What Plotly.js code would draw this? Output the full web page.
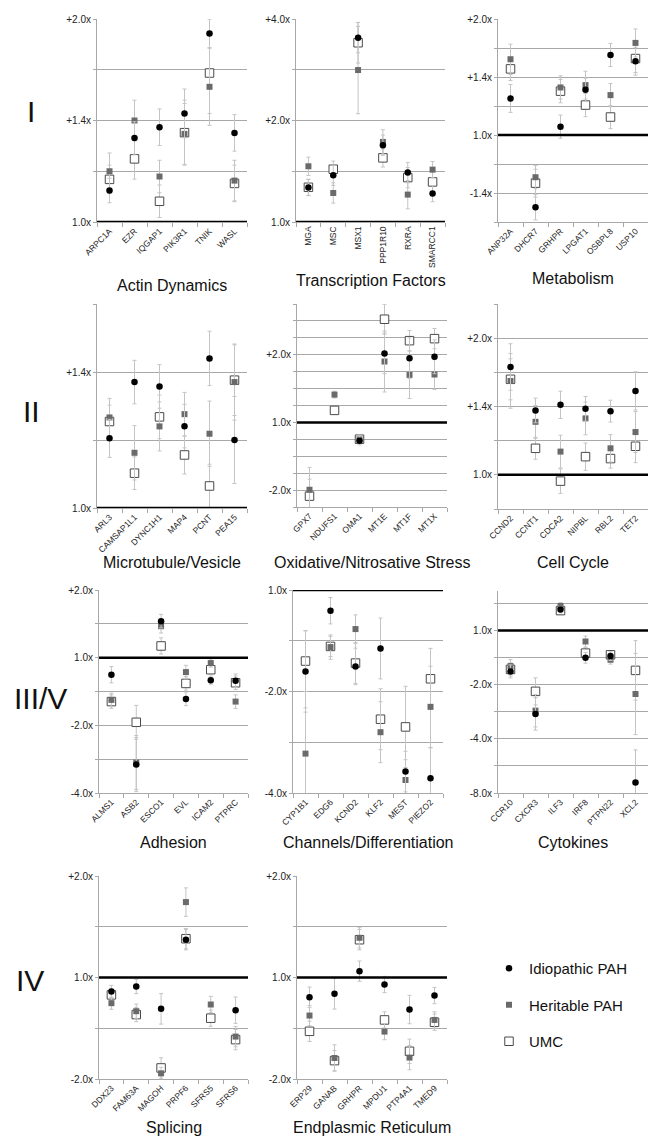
<!DOCTYPE html>
<html><head><meta charset="utf-8">
<script src="https://cdn.plot.ly/plotly-3.0.1.min.js"></script>
<style>html,body{margin:0;padding:0;background:#fff}#chart{width:655px;height:1138px}</style>
</head><body><div id="chart"></div>
<script>
// Values are log2 fold change (1.0x = 0, +2.0x = 1, -2.0x = -1)
const seriesNames = ['Idiopathic PAH', 'Heritable PAH', 'UMC'];

const actinGenes = ['ARPC1A','EZR','IQGAP1','PIK3R1','TNIK','WASL'];
const actinIdio = [0.155, 0.414, 0.467, 0.535, 0.929, 0.439];
const actinHer  = [0.25, 0.5, 0.224, 0.434, 0.666, 0.204];
const actinUMC  = [0.21, 0.311, 0.102, 0.44, 0.734, 0.19];
const actinIdioErr = [0.06, 0.08, 0.09, 0.12, 0.07, 0.09];
const actinHerErr  = [0.09, 0.1, 0.08, 0.15, 0.19, 0.1];
const actinUMCErr  = [0.07, 0.1, 0.08, 0.16, 0.2, 0.09];

const tfGenes = ['MGA','MSC','MSX1','PPP1R10','RXRA','SMARCC1'];
const tfIdio = [0.339, 0.46, 1.816, 0.757, 0.487, 0.28];
const tfHer  = [0.549, 0.286, 1.497, 0.789, 0.27, 0.516];
const tfUMC  = [0.342, 0.52, 1.766, 0.632, 0.4375, 0.395];
const tfIdioErr = [0.08, 0.1, 0.15, 0.1, 0.1, 0.08];
const tfHerErr  = [0.09, 0.1, 0.43, 0.12, 0.14, 0.08];
const tfUMCErr  = [0.08, 0.08, 0.2, 0.09, 0.1, 0.1];

const metGenes = ['ANP32A','DHCR7','GRHPR','LPGAT1','OSBPL8','USP10'];
const metIdio = [0.315, -0.622, 0.072, 0.39, 0.69, 0.636];
const metHer  = [0.653, -0.364, 0.41, 0.43, 0.344, 0.794];
const metUMC  = [0.57, -0.415, 0.378, 0.258, 0.155, 0.659];
const metIdioErr = [0.12, 0.11, 0.1, 0.1, 0.1, 0.12];
const metHerErr  = [0.13, 0.1, 0.1, 0.12, 0.1, 0.12];
const metUMCErr  = [0.1, 0.12, 0.1, 0.1, 0.1, 0.12];

const micGenes = ['ARL3','CAMSAP1L1','DYNC1H1','MAP4','PCNT','PEA15'];
const micIdio = [0.256, 0.463, 0.447, 0.301, 0.55, 0.25];
const micHer  = [0.333, 0.203, 0.3, 0.345, 0.273, 0.463];
const micUMC  = [0.318, 0.128, 0.335, 0.195, 0.081, 0.47];
const micIdioErr = [0.07, 0.08, 0.08, 0.08, 0.1, 0.16];
const micHerErr  = [0.07, 0.1, 0.09, 0.08, 0.12, 0.14];
const micUMCErr  = [0.06, 0.06, 0.08, 0.07, 0.08, 0.13];

const oxGenes = ['GPX7','NDUFS1','OMA1','MT1E','MT1F','MT1X'];
const oxIdio = [null, null, -0.272, 1.02, 0.95, 0.97];
const oxHer  = [-0.995, 0.411, -0.248, 0.9, 0.703, 0.708];
const oxUMC  = [-1.089, 0.178, -0.248, 1.525, 1.208, 1.238];
const oxIdioErr = [0, 0, 0.06, 0.3, 0.3, 0.25];
const oxHerErr  = [0.33, 0.05, 0.06, 0.45, 0.35, 0.22];
const oxUMCErr  = [0.25, 0.06, 0.06, 0.22, 0.15, 0.15];

const ccGenes = ['CCND2','CCNT1','CDCA2','NIPBL','RBL2','TET2'];
const ccIdio = [0.789, 0.471, 0.512, 0.483, 0.466, 0.614];
const ccHer  = [0.687, 0.388, 0.17, 0.413, 0.194, 0.313];
const ccUMC  = [0.699, 0.194, -0.046, 0.133, 0.119, 0.209];
const ccIdioErr = [0.17, 0.09, 0.1, 0.09, 0.08, 0.14];
const ccHerErr  = [0.2, 0.12, 0.12, 0.12, 0.1, 0.15];
const ccUMCErr  = [0.15, 0.08, 0.09, 0.1, 0.07, 0.12];

const adhGenes = ['ALMS1','ASB2','ESCO1','EVL','ICAM2','PTPRC'];
const adhIdio = [-0.252, -1.58, 0.54, -0.609, -0.332, -0.342];
const adhHer  = [-0.624, -1.55, 0.465, -0.213, -0.08, -0.649];
const adhUMC  = [-0.649, -0.955, 0.173, -0.381, -0.178, -0.371];
const adhIdioErr = [0.12, 0.4, 0.1, 0.1, 0.06, 0.1];
const adhHerErr  = [0.1, 0.4, 0.1, 0.1, 0.06, 0.1];
const adhUMCErr  = [0.1, 0.25, 0.12, 0.1, 0.06, 0.1];

const chGenes = ['CYP1B1','EDG6','KCND2','KLF2','MEST','PIEZO2'];
const chIdio = [-0.803, -0.204, -0.753, -0.576, -1.789, -1.855];
const chHer  = [-1.612, -0.5625, -0.385, -1.401, -1.872, -1.151];
const chUMC  = [-0.70, -0.556, -0.72, -1.273, -1.349, -0.875];
const chIdioErr = [0.4, 0.13, 0.18, 0.3, 0.2, 0.3];
const chHerErr  = [0.45, 0.12, 0.14, 0.3, 0.2, 0.4];
const chUMCErr  = [0.3, 0.1, 0.2, 0.3, 0.4, 0.3];

const cytGenes = ['CCR10','CXCR3','ILF3','IRF8','PTPN22','XCL2'];
const cytIdio = [-0.755, -1.54, 0.387, -0.503, -0.472, -2.804];
const cytHer  = [-0.656, -1.479, 0.454, -0.2025, -0.54, -1.172];
const cytUMC  = [-0.718, -1.123, 0.368, -0.417, -0.448, -0.736];
const cytIdioErr = [0.12, 0.3, 0.06, 0.1, 0.08, 0.6];
const cytHerErr  = [0.12, 0.3, 0.06, 0.1, 0.08, 0.75];
const cytUMCErr  = [0.12, 0.25, 0.06, 0.1, 0.08, 0.55];

const splGenes = ['DDX23','FAM63A','MAGOH','PRPF6','SFRS5','SFRS6'];
const splIdio = [-0.138, -0.089, -0.309, 0.372, null, -0.322];
const splHer  = [-0.253, -0.332, -0.944, 0.743, -0.266, -0.582];
const splUMC  = [-0.171, -0.365, -0.891, 0.382, -0.401, -0.612];
const splIdioErr = [0.06, 0.07, 0.15, 0.1, 0, 0.13];
const splHerErr  = [0.06, 0.07, 0.06, 0.14, 0.08, 0.1];
const splUMCErr  = [0.06, 0.07, 0.1, 0.1, 0.08, 0.1];

const erGenes = ['ERP29','GANAB','GRHPR','MPDU1','PTP4A1','TMED9'];
const erIdio = [-0.194, -0.161, 0.0625, -0.069, -0.316, -0.178];
const erHer  = [-0.375, -0.793, 0.391, -0.533, -0.789, -0.418];
const erUMC  = [-0.53, -0.819, 0.372, -0.418, -0.727, -0.441];
const erIdioErr = [0.1, 0.15, 0.1, 0.08, 0.14, 0.08];
const erHerErr  = [0.1, 0.13, 0.1, 0.08, 0.12, 0.08];
const erUMCErr  = [0.1, 0.1, 0.1, 0.08, 0.12, 0.08];

const panelTitles = ['Actin Dynamics','Transcription Factors','Metabolism',
  'Microtubule/Vesicle','Oxidative/Nitrosative Stress','Cell Cycle',
  'Adhesion','Channels/Differentiation','Cytokines','Splicing','Endplasmic Reticulum'];
const rowLabels = ['I','II','III/V','IV'];

// y-axis labels (tick value -> label)
const actinTicks = {vals:[0,0.25,0.5,0.75,1], text:['1.0x','','+1.4x','','+2.0x']};
const tfTicks = {vals:[0,0.5,1,1.5,2], text:['1.0x','','+2.0x','','+4.0x']};
const metTicks = {vals:[-0.75,-0.5,-0.25,0,0.25,0.5,0.75,1], text:['','-1.4x','','1.0x','','+1.4x','','+2.0x']};
const micTicks = {vals:[0,0.25,0.5,0.75], text:['1.0x','','+1.4x','']};
const oxTicks = {vals:[-1.25,-1,-0.75,-0.5,-0.25,0,0.25,0.5,0.75,1,1.25,1.5,1.75], text:['','-2.0x','','','','1.0x','','','','+2.0x','','','']};
const ccTicks = {vals:[-0.25,0,0.25,0.5,0.75,1,1.25], text:['','1.0x','','+1.4x','','+2.0x','']};
const adhTicks = {vals:[-2,-1.5,-1,-0.5,0,0.5,1], text:['-4.0x','','-2.0x','','1.0x','','+2.0x']};
const chTicks = {vals:[-2,-1.5,-1,-0.5,0], text:['-4.0x','','-2.0x','','1.0x']};
const cytTicks = {vals:[-3,-2.5,-2,-1.5,-1,-0.5,0,0.5], text:['-8.0x','','-4.0x','','-2.0x','','1.0x','']};
const splTicks = {vals:[-1,-0.5,0,0.5,1], text:['-2.0x','','1.0x','','+2.0x']};

const W = 655, H = 1138;
// panel geometry in pixels: [x0, x1, yTop, yBottom]
const panels = [
  {g:actinGenes, d:[actinIdio,actinHer,actinUMC], e:[actinIdioErr,actinHerErr,actinUMCErr], t:actinTicks, r:[0,1], box:[97,247,19,222], ang:-45, ty:285},
  {g:tfGenes, d:[tfIdio,tfHer,tfUMC], e:[tfIdioErr,tfHerErr,tfUMCErr], t:tfTicks, r:[0,2], box:[296,445,19,222], ang:-90, ty:280},
  {g:metGenes, d:[metIdio,metHer,metUMC], e:[metIdioErr,metHerErr,metUMCErr], t:metTicks, r:[-0.75,1], box:[498,648,19,222], ang:-45, ty:278},
  {g:micGenes, d:[micIdio,micHer,micUMC], e:[micIdioErr,micHerErr,micUMCErr], t:micTicks, r:[0,0.75], box:[97,247,304,508], ang:-45, ty:563},
  {g:oxGenes, d:[oxIdio,oxHer,oxUMC], e:[oxIdioErr,oxHerErr,oxUMCErr], t:oxTicks, r:[-1.25,1.75], box:[297,447,304,507], ang:-45, ty:563},
  {g:ccGenes, d:[ccIdio,ccHer,ccUMC], e:[ccIdioErr,ccHerErr,ccUMCErr], t:ccTicks, r:[-0.25,1.25], box:[498,648,304,509], ang:-45, ty:563},
  {g:adhGenes, d:[adhIdio,adhHer,adhUMC], e:[adhIdioErr,adhHerErr,adhUMCErr], t:adhTicks, r:[-2,1], box:[99,248,590,793], ang:-45, ty:842},
  {g:chGenes, d:[chIdio,chHer,chUMC], e:[chIdioErr,chHerErr,chUMCErr], t:chTicks, r:[-2,0], box:[293,443,590,793], ang:-45, ty:842},
  {g:cytGenes, d:[cytIdio,cytHer,cytUMC], e:[cytIdioErr,cytHerErr,cytUMCErr], t:cytTicks, r:[-3,0.73], box:[498,648,591,793], ang:-45, ty:842},
  {g:splGenes, d:[splIdio,splHer,splUMC], e:[splIdioErr,splHerErr,splUMCErr], t:splTicks, r:[-1,1], box:[99,248,876,1079], ang:-45, ty:1127},
  {g:erGenes, d:[erIdio,erHer,erUMC], e:[erIdioErr,erHerErr,erUMCErr], t:splTicks, r:[-1,1], box:[297,447,876,1079], ang:-45, ty:1127}
];
const rowLabelPos = [[31,112],[31,411],[40,698],[30,980]];

const markerStyles = [
  {symbol:'circle', size:6.5, color:'#000000'},
  {symbol:'square', size:6, color:'#6a6a6a'},
  {symbol:'square', size:8.5, color:'#ffffff', line:{color:'#4a4a4a', width:1}}
];
const FONT = 'Arial, "Liberation Sans", sans-serif';

const traces = [];
const layout = {
  width: W, height: H,
  margin: {l:0, r:0, t:0, b:0},
  paper_bgcolor: '#fff', plot_bgcolor: 'rgba(0,0,0,0)',
  font: {family: FONT, color: '#222'},
  showlegend: true,
  legend: {x: 489/W, y: 1 - 952/H, xanchor:'left', yanchor:'top', traceorder:'grouped', tracegroupgap: 14,
           font:{size:15, color:'#111', family: FONT}, bgcolor:'rgba(0,0,0,0)'},
  annotations: [], shapes: []
};

panels.forEach((p, i) => {
  const n = i + 1;
  const xa = n === 1 ? 'x' : 'x' + n;
  const ya = n === 1 ? 'y' : 'y' + n;
  // draw UMC first, then heritable, then idiopathic on top
  [2, 1, 0].forEach(s => {
    traces.push({
      type: 'scatter', mode: 'markers',
      x: p.g, y: p.d[s],
      xaxis: xa, yaxis: ya,
      name: seriesNames[s], legendgroup: 'g' + s, legendrank: s + 1,
      showlegend: i === 0,
      marker: markerStyles[s],
      error_y: {type:'data', array: p.e[s], visible: true, color:'#c4c4c4', thickness:1, width:2},
      cliponaxis: true,
      hoverinfo: 'x+y'
    });
  });
  const b = p.box;
  layout['xaxis' + (n === 1 ? '' : n)] = {
    domain: [b[0]/W, b[1]/W], anchor: ya, type:'category',
    categoryorder:'array', categoryarray: p.g,
    range: [-0.5, p.g.length - 0.5],
    showgrid:false, zeroline:false, showline:true, linecolor:'#a8a8a8', linewidth:1,
    ticks:'outside', tickson:'boundaries', ticklen:4, tickcolor:'#a8a8a8',
    tickangle: p.ang, tickfont:{size:8.5, color:'#222', family: FONT}, fixedrange:true
  };
  layout['yaxis' + (n === 1 ? '' : n)] = {
    domain: [1 - b[3]/H, 1 - b[2]/H], anchor: xa,
    range: p.r, tickvals: p.t.vals, ticktext: p.t.text,
    showgrid:true, gridcolor:'#a8a8a8', gridwidth:1, zeroline:false,
    showline:true, linecolor:'#a8a8a8', linewidth:1,
    ticks:'outside', ticklen:3, tickcolor:'#a8a8a8',
    tickfont:{size:10, color:'#222', family: FONT}, fixedrange:true
  };
  // thick 1.0x line
  layout.shapes.push({type:'line', xref: xa + ' domain', yref: ya, x0:0, x1:1, y0:0, y1:0,
    line:{color:'#000', width:2.5}, layer:'above'});
  layout.annotations.push({xref:'paper', yref:'paper', x:(b[0]+b[1])/2/W, y:1 - p.ty/H,
    text: panelTitles[i], showarrow:false, xanchor:'center', yanchor:'middle',
    font:{size:16, color:'#111', family: FONT}});
});

rowLabels.forEach((t, i) => {
  layout.annotations.push({xref:'paper', yref:'paper', x: rowLabelPos[i][0]/W, y: 1 - rowLabelPos[i][1]/H,
    text: t, showarrow:false, xanchor:'center', yanchor:'middle',
    font:{size:30, color:'#111', family: FONT}});
});

Plotly.newPlot('chart', traces, layout, {displayModeBar:false, staticPlot:true});
</script>
</body></html>
